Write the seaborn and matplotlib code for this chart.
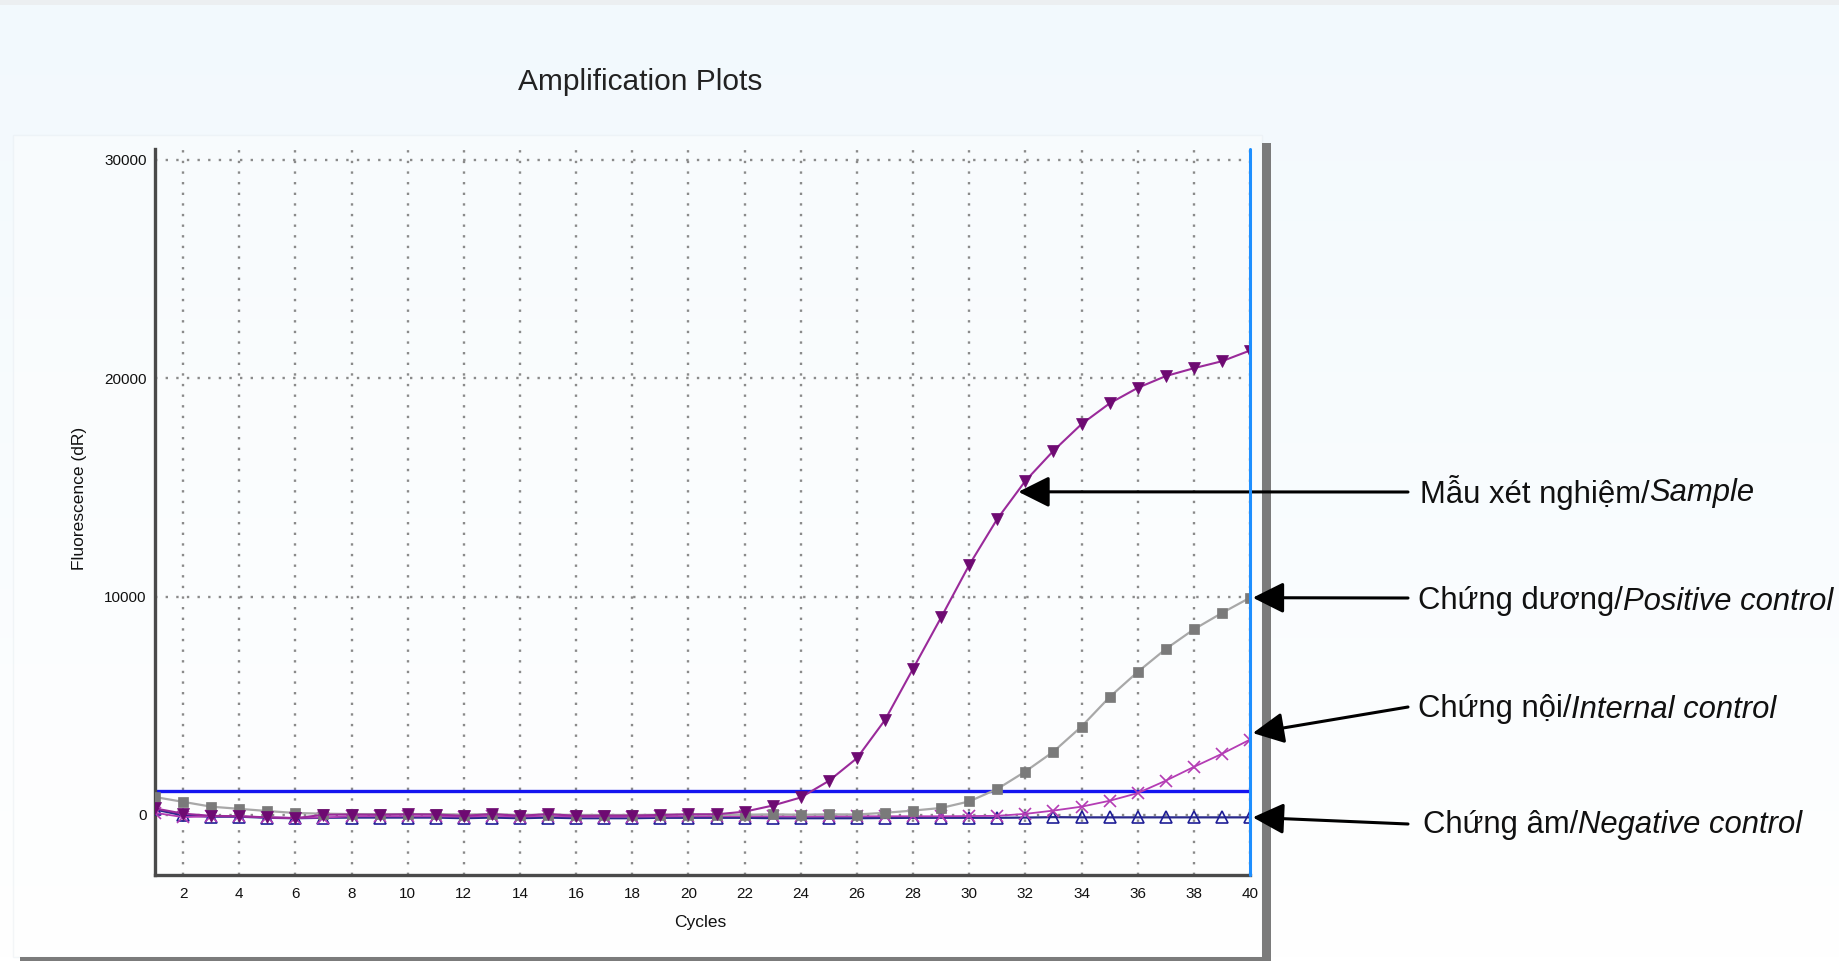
import numpy as np
import pandas as pd
import matplotlib
matplotlib.use("Agg")
import matplotlib.pyplot as plt
import seaborn as sns
from matplotlib.patches import Rectangle
from matplotlib.colors import LinearSegmentedColormap
from matplotlib.ticker import MultipleLocator

# Values
cycles = list(range(1, 41))
sample = [300, 60, -40, -60, -110, -150, 10, 20, 10, 30,
          20, -40, 40, -40, 40, -40, -30, -30, 0, 30,
          30, 150, 430, 800, 1560, 2600, 4350, 6700, 9050, 11450,
          13560, 15300, 16680, 17900, 18850, 19560, 20100, 20460, 20780, 21270]
positive_control = [820, 600, 380, 280, 180, 90, 60, 40, 40, 40,
                    40, 20, 40, 0, 20, 0, 0, 0, 10, 20,
                    10, 10, 30, 10, 30, 20, 100, 200, 320, 620,
                    1190, 1990, 2900, 4050, 5400, 6550, 7600, 8500, 9250, 9950]
internal_control = [100, -100, -60, -60, -110, -130, -120, -60, -60, -60,
                    -60, -80, -40, -80, -40, -80, -80, -80, -70, -60,
                    -60, -60, -60, -70, -60, -60, -60, -60, -60, -50,
                    -40, 50, 200, 380, 650, 1000, 1570, 2200, 2800, 3450]
negative_control = [250, -20, -80, -80, -130, -150, -130, -120, -120, -120,
                    -120, -150, -120, -150, -120, -150, -150, -150, -130, -130,
                    -130, -130, -150, -150, -150, -150, -140, -130, -130, -130,
                    -130, -120, -100, -110, -110, -110, -110, -110, -110, -110]
threshold = 1100

labels_plain = ["Mẫu xét nghiệm/", "Chứng dương/", "Chứng nội/", "Chứng âm/"]
labels_italic = ["Sample", "Positive control", "Internal control", "Negative control"]

W, H = 1840, 961

sns.set_style("white")
plt.rcParams["font.family"] = ["Liberation Sans", "DejaVu Sans"]

df = pd.DataFrame({
    "Cycles": cycles,
    "sample": sample,
    "positive": positive_control,
    "internal": internal_control,
    "negative": negative_control,
})

fig = plt.figure(figsize=(W / 100, H / 100), dpi=100)

# soft page background + panel with shadow
bg = fig.add_axes([0, 0, 1, 1], zorder=-10)
grad = np.linspace(0, 1, 256).reshape(-1, 1)
bg.imshow(grad, aspect="auto", extent=[0, 1, 0, 1],
          cmap=LinearSegmentedColormap.from_list("bg", ["#f2f9fd", "#ffffff"]))
bg.add_patch(Rectangle((0, 1 - 5 / H), 1, 5 / H, facecolor="#eceff1", lw=0))
bg.add_patch(Rectangle((13 / W, 4 / H), 1249 / W, 822 / H,
                       facecolor="white", alpha=0.4, edgecolor="#e3e9ee", lw=1))
bg.add_patch(Rectangle((1262 / W, 0), 9 / W, (961 - 143) / H, facecolor="#7b7b7b", lw=0))
bg.add_patch(Rectangle((20 / W, 0), 1251 / W, 4 / H, facecolor="#7b7b7b", lw=0))
bg.set_xlim(0, 1)
bg.set_ylim(0, 1)
bg.axis("off")

ax = fig.add_axes([155 / W, 1 - 875 / H, 1095 / W, 726 / H])
ax.patch.set_alpha(0)

ax.hlines(threshold, 1, 40, color="#1414f0", lw=2.4, zorder=2)

sns.lineplot(data=df, x="Cycles", y="negative", ax=ax, color="#2a2a8c", lw=1.6,
             marker="^", markersize=8, markerfacecolor="none",
             markeredgecolor="#1e1e96", markeredgewidth=1.2, zorder=3)
sns.lineplot(data=df, x="Cycles", y="internal", ax=ax, color="#b43cb4", lw=1.3,
             marker="x", markersize=8, markeredgecolor="#b43cb4",
             markeredgewidth=1.2, zorder=4)
sns.lineplot(data=df, x="Cycles", y="positive", ax=ax, color="#a8a8a8", lw=1.6,
             marker="s", markersize=7.5, markerfacecolor="#7a7a7a",
             markeredgecolor="#7a7a7a", markeredgewidth=0.5, zorder=5)
sns.lineplot(data=df, x="Cycles", y="sample", ax=ax, color="#9a2a9a", lw=1.5,
             marker="v", markersize=8.5, markerfacecolor="#6e0a72",
             markeredgecolor="#6e0a72", markeredgewidth=0.5, zorder=6)

ax.axvline(40, color="#1e8fff", lw=2.2, clip_on=False, zorder=7)

ax.set_xlim(1, 40)
ax.set_ylim(-2750, 30500)
ax.xaxis.set_major_locator(MultipleLocator(2))
ax.xaxis.set_minor_locator(MultipleLocator(1))
ax.set_yticks([0, 10000, 20000, 30000])
ax.set_yticks([5000, 15000, 25000], minor=True)
ax.tick_params(which="both", direction="inout", length=6, width=1.5, color="#222222",
               labelsize=11, labelcolor="#111111")
ax.tick_params(axis="x", which="both", pad=6)
ax.tick_params(axis="y", which="both", pad=3)

ax.grid(which="major", color="#8a8a8a", linestyle=(0, (1, 3.5)), lw=1.7)

for side in ["top", "right"]:
    ax.spines[side].set_visible(False)
for side in ["left", "bottom"]:
    ax.spines[side].set_color("#4a4a4a")
    ax.spines[side].set_linewidth(2.4)

ax.set_xlabel("Cycles", fontsize=12.5, color="#111111")
ax.set_ylabel("Fluorescence (dR)", fontsize=12.5, color="#111111")
ax.xaxis.set_label_coords(0.4977, -0.055)
ax.yaxis.set_label_coords(-0.062, 0.518)

fig.text(640 / W, 1 - 82 / H, "Amplification Plots", ha="center", va="center",
         fontsize=21.5, color="#222222")

# arrows: tail in figure pixels, head on the curve
targets = [(31.75, 14800), (40.1, positive_control[-1]),
           (40.1, 3750), (40.1, negative_control[-1])]
tails_y = [492, 598, 707, 824]
text_x = [1420, 1418, 1418, 1423]
text_y = [489, 598, 706, 821]

for (tx, ty), yy in zip(targets, tails_y):
    ax.annotate("", xy=(tx, ty), xycoords="data",
                xytext=(1408, H - yy), textcoords="figure pixels",
                arrowprops=dict(arrowstyle="-|>,head_length=1.0,head_width=0.5",
                                mutation_scale=19, lw=2.2, color="black",
                                shrinkA=0, shrinkB=0),
                annotation_clip=False)

plain_texts = []
for lab, x, y in zip(labels_plain, text_x, text_y):
    t = fig.text(x / W, 1 - y / H, lab, ha="left", va="center_baseline",
                 fontsize=22.3, color="#111111")
    plain_texts.append(t)

fig.canvas.draw()
renderer = fig.canvas.get_renderer()
for t, lab, y in zip(plain_texts, labels_italic, text_y):
    bb = t.get_window_extent(renderer)
    fig.text(bb.x1 / W, 1 - y / H, lab, ha="left", va="center_baseline",
             fontsize=22.3, style="italic", color="#111111")

fig.savefig("out.png", dpi=100)
